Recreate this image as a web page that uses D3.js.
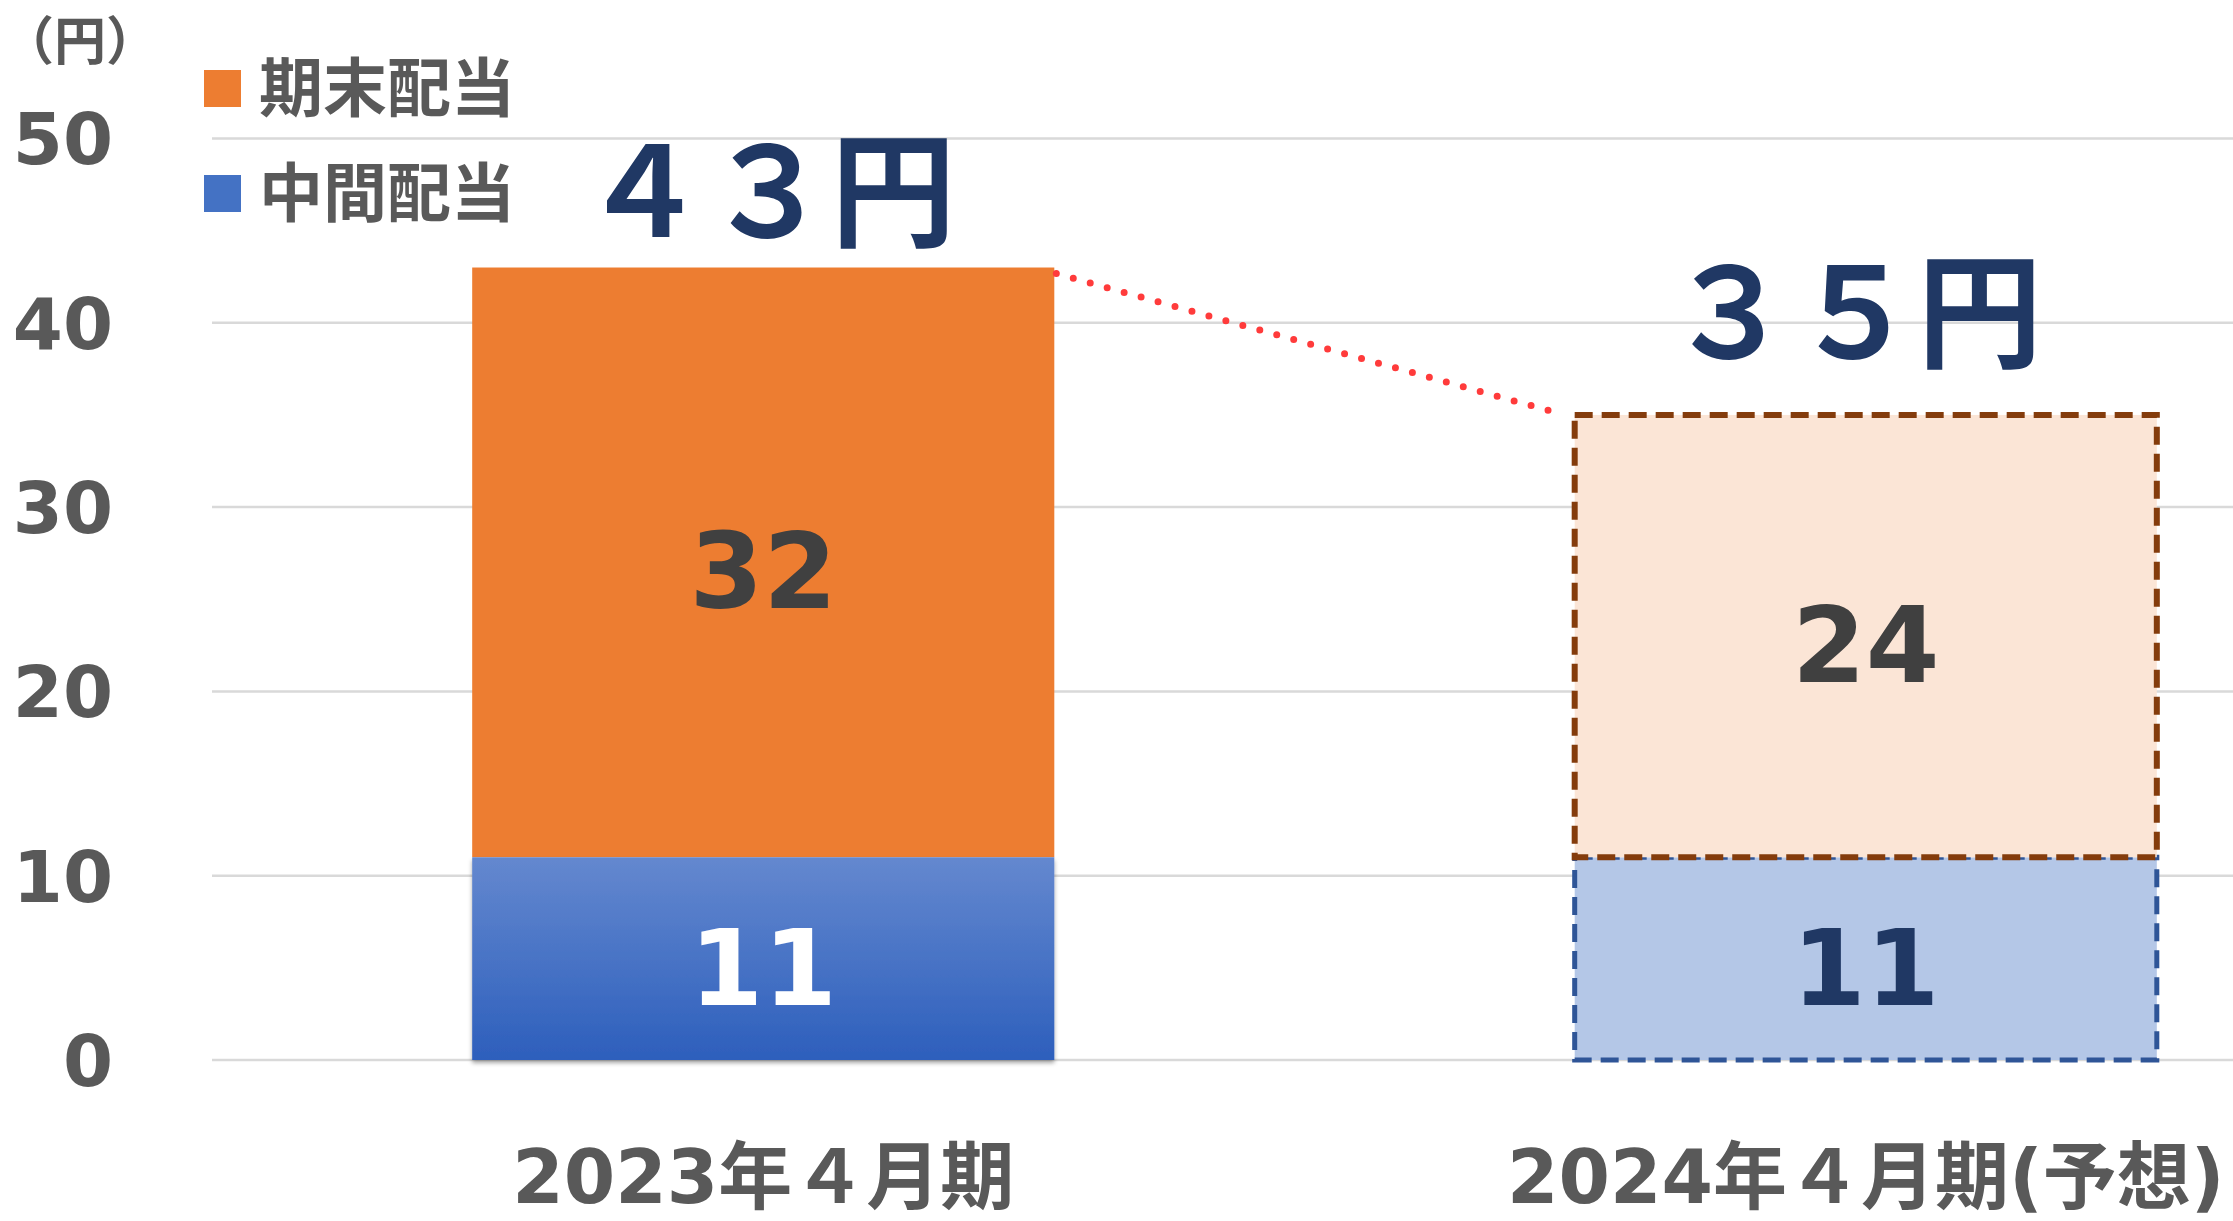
<!DOCTYPE html>
<html>
<head>
<meta charset="utf-8">
<script src="https://cdn.jsdelivr.net/npm/d3@7"></script>
<style>
  body { margin: 0; background: #fff; }
  svg { display: block; }
</style>
</head>
<body>
<script>
// data
var categories = ["2023年４月期", "2024年４月期(予想)"];
var interim = [11, 11];       // 中間配当
var yearEnd = [32, 24];       // 期末配当
var totalLabels = ["４３円", "３５円"];
var seriesNames = ["期末配当", "中間配当"];
var yTicks = [0, 10, 20, 30, 40, 50];
var unitLabel = "（円）";

var W = 2233, H = 1221;
var jp = "'Noto Sans CJK JP', sans-serif";
var latin = "'DejaVu Sans', 'Noto Sans CJK JP', sans-serif";

var svg = d3.select("body").append("svg")
    .attr("width", W)
    .attr("height", H);

var defs = svg.append("defs");
var grad = defs.append("linearGradient")
    .attr("id", "blueGrad")
    .attr("x1", 0).attr("y1", 0).attr("x2", 0).attr("y2", 1);
grad.append("stop").attr("offset", "0%").attr("stop-color", "#6488cf");
grad.append("stop").attr("offset", "100%").attr("stop-color", "#2d5fbc");

var shadow = defs.append("filter").attr("id", "shadow")
    .attr("x", "-5%").attr("y", "-5%").attr("width", "110%").attr("height", "115%");
shadow.append("feDropShadow")
    .attr("dx", 0).attr("dy", 3).attr("stdDeviation", 2)
    .attr("flood-color", "#000").attr("flood-opacity", 0.35);

var yScale = d3.scaleLinear()
    .domain([0, 50])
    .range([1060, 138.5]);

var xScale = d3.scaleBand()
    .domain(categories)
    .range([212, 2417])
    .paddingInner(0.472)
    .paddingOuter(0.236);

// gridlines
svg.append("g")
    .selectAll("line")
    .data(yTicks)
    .enter()
    .append("line")
    .attr("x1", 212)
    .attr("x2", W)
    .attr("y1", function (d) { return yScale(d); })
    .attr("y2", function (d) { return yScale(d); })
    .attr("stroke", "#d9d9d9")
    .attr("stroke-width", 2.5);

// y axis labels
svg.append("g")
    .selectAll("text")
    .data(yTicks)
    .enter()
    .append("text")
    .attr("x", 113)
    .attr("y", function (d) { return yScale(d); })
    .attr("dy", "0.36em")
    .attr("text-anchor", "end")
    .attr("font-family", latin)
    .attr("font-weight", "bold")
    .attr("font-size", 72)
    .attr("fill", "#595959")
    .text(function (d) { return d; });

svg.append("text")
    .attr("x", 2)
    .attr("y", 60)
    .attr("text-anchor", "start")
    .attr("font-family", jp)
    .attr("font-weight", "bold")
    .attr("font-size", 52)
    .attr("fill", "#595959")
    .text(unitLabel);

var bw = xScale.bandwidth();

// actual (first category)
var actual = svg.append("g");
actual.append("rect")
    .attr("x", xScale(categories[0]))
    .attr("y", yScale(interim[0] + yearEnd[0]))
    .attr("width", bw)
    .attr("height", yScale(interim[0]) - yScale(interim[0] + yearEnd[0]))
    .attr("fill", "#ed7d31");
actual.append("rect")
    .attr("x", xScale(categories[0]))
    .attr("y", yScale(interim[0]))
    .attr("width", bw)
    .attr("height", yScale(0) - yScale(interim[0]))
    .attr("fill", "url(#blueGrad)")
    .attr("filter", "url(#shadow)");

// forecast (second category), dashed outlines
var fc = svg.append("g");
fc.append("rect")
    .attr("x", xScale(categories[1]))
    .attr("y", yScale(interim[1]))
    .attr("width", bw)
    .attr("height", yScale(0) - yScale(interim[1]))
    .attr("fill", "#b4c7e7")
    .attr("stroke", "#2f5597")
    .attr("stroke-width", 5)
    .attr("stroke-dasharray", "18 9");
fc.append("rect")
    .attr("x", xScale(categories[1]))
    .attr("y", yScale(interim[1] + yearEnd[1]))
    .attr("width", bw)
    .attr("height", yScale(interim[1]) - yScale(interim[1] + yearEnd[1]))
    .attr("fill", "#fbe5d6")
    .attr("stroke", "#843c0c")
    .attr("stroke-width", 6)
    .attr("stroke-dasharray", "18 9");

// dotted connector between the two totals
svg.append("line")
    .attr("x1", xScale(categories[0]) + bw + 2)
    .attr("y1", yScale(interim[0] + yearEnd[0]) + 6)
    .attr("x2", xScale(categories[1]) - 10)
    .attr("y2", yScale(interim[1] + yearEnd[1]))
    .attr("stroke", "#ff3b3b")
    .attr("stroke-width", 7)
    .attr("stroke-linecap", "round")
    .attr("stroke-dasharray", "0 17.6");

// segment labels
var segLabels = [
    { cat: 0, lo: 0, hi: interim[0], v: interim[0], fill: "#ffffff" },
    { cat: 0, lo: interim[0], hi: interim[0] + yearEnd[0], v: yearEnd[0], fill: "#404040" },
    { cat: 1, lo: 0, hi: interim[1], v: interim[1], fill: "#203864" },
    { cat: 1, lo: interim[1], hi: interim[1] + yearEnd[1], v: yearEnd[1], fill: "#404040" }
];
svg.append("g")
    .selectAll("text")
    .data(segLabels)
    .enter()
    .append("text")
    .attr("x", function (d) { return xScale(categories[d.cat]) + bw / 2; })
    .attr("y", function (d) { return (yScale(d.lo) + yScale(d.hi)) / 2; })
    .attr("dy", 46)
    .attr("text-anchor", "middle")
    .attr("font-family", latin)
    .attr("font-weight", "bold")
    .attr("font-size", 106)
    .attr("fill", function (d) { return d.fill; })
    .text(function (d) { return d.v; });

// totals above bars
var totalOffset = [{ dx: 5, dy: -31 }, { dx: -11, dy: -57 }];
svg.append("g")
    .selectAll("text")
    .data(totalLabels)
    .enter()
    .append("text")
    .attr("x", function (d, i) { return xScale(categories[i]) + bw / 2 + totalOffset[i].dx; })
    .attr("y", function (d, i) { return yScale(interim[i] + yearEnd[i]) + totalOffset[i].dy; })
    .attr("text-anchor", "middle")
    .attr("font-family", jp)
    .attr("font-weight", "bold")
    .attr("font-size", 125)
    .attr("fill", "#203864")
    .text(function (d) { return d; });

// category labels
svg.append("g")
    .selectAll("text")
    .data(categories)
    .enter()
    .append("text")
    .attr("x", function (d) { return xScale(d) + bw / 2; })
    .attr("y", 1203)
    .attr("text-anchor", "middle")
    .attr("font-family", latin)
    .attr("font-weight", "bold")
    .attr("font-size", 74)
    .attr("fill", "#595959")
    .text(function (d) { return d; });

// legend
var legendColors = ["#ed7d31", "#4472c4"];
var legend = svg.append("g")
    .selectAll("g")
    .data(seriesNames)
    .enter()
    .append("g")
    .attr("transform", function (d, i) { return "translate(204," + (70 + i * 105) + ")"; });
legend.append("rect")
    .attr("width", 37)
    .attr("height", 37)
    .attr("fill", function (d, i) { return legendColors[i]; });
legend.append("text")
    .attr("x", 55)
    .attr("y", 18)
    .attr("dy", "0.36em")
    .attr("font-family", jp)
    .attr("font-weight", "bold")
    .attr("font-size", 64)
    .attr("fill", "#595959")
    .text(function (d) { return d; });
</script>
</body>
</html>
